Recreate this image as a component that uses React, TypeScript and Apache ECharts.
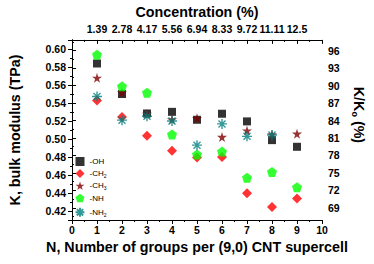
import React, { useEffect, useRef } from "react";
import * as echarts from "echarts";

const groups = [1, 2, 3, 4, 5, 6, 7, 8, 9];
const concentrationLabels = ["1.39", "2.78", "4.17", "5.56", "6.94", "8.33", "9.72", "11.11", "12.5"];
const ohValues = [0.5838, 0.5499, 0.5283, 0.5301, 0.5213, 0.528, 0.5195, 0.4987, 0.4913];
const ch2Values = [0.5428, 0.5245, 0.5036, 0.487, 0.4793, 0.48, 0.4398, 0.4245, 0.4338];
const ch3Values = [0.5679, 0.5513, 0.5277, 0.5216, 0.523, 0.5022, 0.5093, 0.505, 0.5058];
const nhValues = [0.5936, 0.5584, 0.5513, 0.505, 0.4828, 0.486, 0.457, 0.4634, 0.4465];
const nh2Values = [0.5471, 0.5209, 0.5252, 0.5199, 0.4931, 0.5167, 0.5029, 0.5044];

const FONT = "'Liberation Sans', Arial, sans-serif";
const STAR = "path://M50,0 L61,35 L98,35 L68,57 L79,91 L50,70 L21,91 L32,57 L2,35 L39,35 Z";
const PENTAGON = "path://M50,0 L98,35 L79,91 L21,91 L2,35 Z";
const ASTERISK = "path://M5,0 L5,10 M0,5 L10,5 M1.5,1.5 L8.5,8.5 M8.5,1.5 L1.5,8.5";

const pts = (vals: number[]) => vals.map((v, i) => [groups[i], v]);

export default function App() {
  const ref = useRef<HTMLDivElement>(null);
  useEffect(() => {
    if (!ref.current) return;
    const chart = echarts.init(ref.current, null, { renderer: "svg" });
    const axisLine = { show: true, lineStyle: { color: "#000", width: 1 } };
    const labelStyle = { color: "#000", fontFamily: FONT, fontWeight: "bold" as const, fontSize: 10.5 };
    const nameStyle = { color: "#000", fontFamily: FONT, fontWeight: "bold" as const, fontSize: 14.3 };
    chart.setOption({
      animation: false,
      backgroundColor: "#fff",
      grid: { left: 67, right: 52, top: 31, bottom: 44 },
      legend: {
        orient: "vertical",
        left: 73,
        top: 157,
        padding: 0,
        itemWidth: 9,
        itemHeight: 9,
        itemGap: 3,
        formatter: (name: string) => name.replace(/(\d)$/, "{s|$1}"),
        textStyle: {
          fontFamily: FONT,
          fontSize: 8,
          color: "#000",
          rich: { s: { fontFamily: FONT, fontSize: 5, color: "#000", verticalAlign: "bottom", padding: [5, 0, 0, 0] } },
        },
        data: ["-OH", "-CH2", "-CH3", "-NH", "-NH2"],
      },
      xAxis: [
        {
          type: "value",
          position: "bottom",
          min: 0,
          max: 10,
          interval: 1,
          axisLine,
          axisTick: { show: true, length: 4, lineStyle: { color: "#000" } },
          minorTick: { show: true, splitNumber: 2, length: 2, lineStyle: { color: "#000" } },
          splitLine: { show: false },
          axisLabel: { ...labelStyle, margin: 4 },
          name: "N, Number of groups per (9,0) CNT supercell",
          nameLocation: "middle",
          nameGap: 16,
          nameTextStyle: nameStyle,
        },
        {
          type: "value",
          position: "top",
          min: 0,
          max: 10,
          interval: 1,
          axisLine,
          axisTick: { show: true, inside: true, length: 4, lineStyle: { color: "#000" } },
          minorTick: { show: true, splitNumber: 2, length: 2, lineStyle: { color: "#000" } },
          splitLine: { show: false },
          axisLabel: {
            ...labelStyle,
            margin: 5,
            formatter: (v: number) => (v >= 1 && v <= 9 ? concentrationLabels[v - 1] : ""),
          },
          name: "Concentration (%)",
          nameLocation: "middle",
          nameGap: 18,
          nameTextStyle: nameStyle,
        },
      ],
      yAxis: [
        {
          type: "value",
          position: "left",
          min: 0.41,
          max: 0.61,
          splitNumber: 10,
          axisLine,
          axisTick: { show: true, length: 4, lineStyle: { color: "#000" } },
          minorTick: { show: true, splitNumber: 2, length: 2, lineStyle: { color: "#000" } },
          splitLine: { show: false },
          axisLabel: {
            ...labelStyle,
            margin: 6,
            showMinLabel: false,
            showMaxLabel: false,
            formatter: (v: number) => v.toFixed(2),
          },
          name: "K, bulk modulus (TPa)",
          nameLocation: "middle",
          nameGap: 50,
          nameRotate: 90,
          nameTextStyle: nameStyle,
        },
        {
          type: "value",
          position: "right",
          min: 66.92,
          max: 97.85,
          splitNumber: 10,
          axisLine,
          axisTick: { show: true, length: 4, lineStyle: { color: "#000" } },
          minorTick: { show: true, splitNumber: 2, length: 2, lineStyle: { color: "#000" } },
          splitLine: { show: false },
          axisLabel: {
            ...labelStyle,
            margin: 6,
            showMinLabel: false,
            showMaxLabel: false,
            formatter: (v: number) => String(Math.round(v)),
          },
          name: "K/K{s|o} (%)",
          nameLocation: "middle",
          nameGap: 28,
          nameRotate: -90,
          nameTextStyle: {
            ...nameStyle,
            padding: [0, 30, 0, 0],
            rich: {
              s: { fontFamily: FONT, fontWeight: "bold", fontSize: 9, color: "#000", verticalAlign: "bottom", padding: [7, 0, 0, 0] },
            },
          },
        },
      ],
      series: [
        {
          name: "-OH",
          type: "scatter",
          symbol: "rect",
          symbolSize: 8,
          itemStyle: { color: "#000" },
          data: pts(ohValues),
        },
        {
          name: "-CH2",
          type: "scatter",
          symbol: "diamond",
          symbolSize: 10,
          itemStyle: { color: "#ff0000" },
          data: pts(ch2Values),
        },
        {
          name: "-CH3",
          type: "scatter",
          symbol: STAR,
          symbolSize: 10,
          itemStyle: { color: "#800000" },
          data: pts(ch3Values),
        },
        {
          name: "-NH",
          type: "scatter",
          symbol: PENTAGON,
          symbolSize: 10,
          itemStyle: { color: "#00ff00" },
          data: pts(nhValues),
        },
        {
          name: "-NH2",
          type: "scatter",
          symbol: ASTERISK,
          symbolSize: 10,
          itemStyle: { color: "none", borderColor: "#008080", borderWidth: 1.4 },
          data: pts(nh2Values),
        },
      ],
    });
    return () => chart.dispose();
  }, []);
  return <div ref={ref} style={{ position: "fixed", left: 0, top: 0, width: 374, height: 264 }} />;
}
